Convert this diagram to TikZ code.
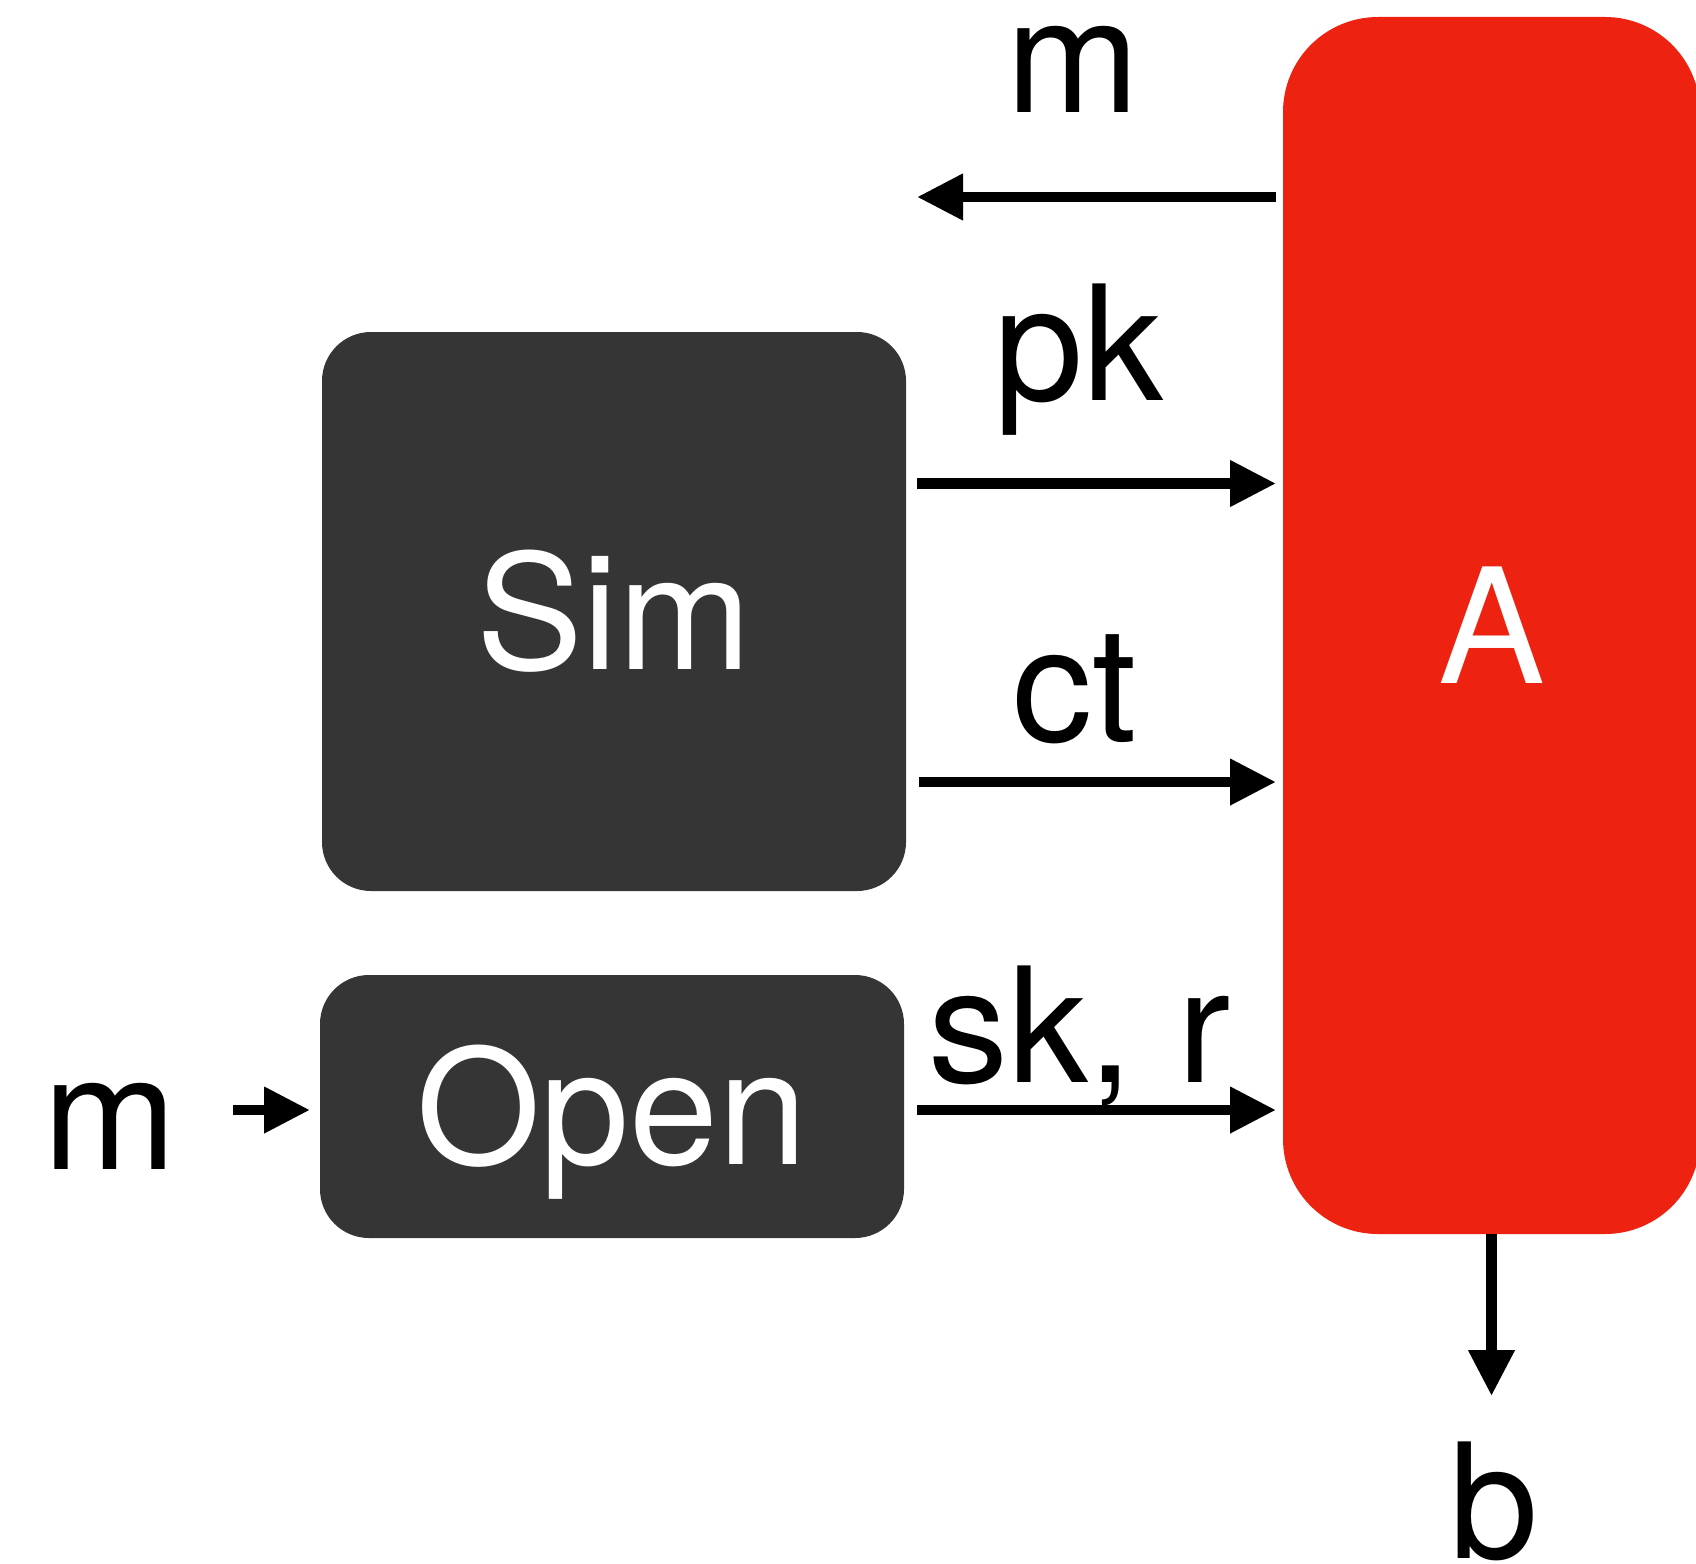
\documentclass[tikz,border=0pt]{standalone}
\usepackage{fontspec}
\setmainfont{TeX Gyre Heros}
\usetikzlibrary{arrows.meta}
\definecolor{advred}{HTML}{EE2210}
\definecolor{boxgray}{HTML}{353535}
\begin{document}
\begin{tikzpicture}[x=1pt,y=-1pt,
  big/.style={font=\fontsize{160}{190}\selectfont},
  label/.style={big,anchor=base,inner sep=0pt},
  algbox/.style={big,fill=boxgray,text=white,rounded corners=49pt,inner sep=0pt,outer sep=0pt,
    text height=115pt,text depth=0pt,minimum width=584pt},
  arr/.style={line width=10.5pt,-{Triangle[length=46pt,width=44pt]}}]
\clip (0,0) rectangle (1696,1563);
\useasboundingbox (0,0) rectangle (1696,1563);

% adversary
\node[big,fill=advred,text=white,rounded corners=95pt,inner sep=0pt,outer sep=0pt,
  text height=115pt,text depth=0pt,minimum width=417pt,minimum height=1217pt]
  (A) at (1491.5,625.5) {A};

% simulator and opening algorithm
\node[algbox,minimum height=559pt] (sim) at (614,611.5) {Sim};
\node[algbox,minimum height=263pt] (open) at (612,1106.5) {Open};

% message labels
\node[label] (mtop) at (1073,112.5) {m};
\node[label] (pk) at (1079,400) {pk};
\node[label] (ct) at (1075,741) {ct};
\node[label] (skr) at (1080,1082) {sk, r};
\node[label] (min) at (110,1169) {m};
\node[label] (b) at (1494,1558) {b};

\coordinate (mtip) at (917,197);
\coordinate (mtail) at (233,1110);
\coordinate (btip) at (1491.5,1396);

% connectors
\draw[arr,shorten <=7pt] (A.west |- mtip) -- (mtip);
\draw[arr,shorten <=11pt,shorten >=7pt] (sim.east |- 0,483.5) -- (A.west |- 0,483.5);
\draw[arr,shorten <=13pt,shorten >=7pt] (sim.east |- 0,782) -- (A.west |- 0,782);
\draw[arr,shorten <=13pt,shorten >=7pt] (open.east |- mtail) -- (A.west |- mtail);
\draw[arr,shorten >=10pt] (mtail) -- (open.west |- mtail);
\draw[arr] (A.south) -- (btip);
\end{tikzpicture}
\end{document}
